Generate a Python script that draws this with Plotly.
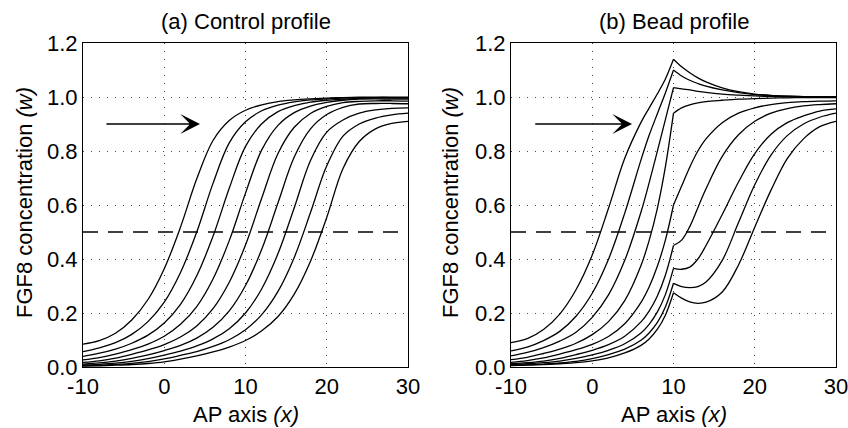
import plotly.graph_objects as go

# ---------------- data ----------------
x_ctrl = [-10, -8, -6, -4, -2, 0, 2, 4, 6, 8, 10, 12, 14, 16, 18, 20, 22, 24, 26, 28, 30]

ctrl_1 = [0.085, 0.098, 0.125, 0.174, 0.250, 0.364, 0.518, 0.697, 0.839, 0.913, 0.951, 0.971, 0.983, 0.989, 0.993, 0.996, 0.998, 0.999, 0.999, 0.999, 0.999]
ctrl_2 = [0.057, 0.071, 0.090, 0.121, 0.168, 0.240, 0.350, 0.500, 0.680, 0.830, 0.908, 0.949, 0.970, 0.982, 0.989, 0.993, 0.996, 0.997, 0.998, 0.998, 0.998]
ctrl_3 = [0.039, 0.051, 0.066, 0.088, 0.118, 0.163, 0.232, 0.338, 0.484, 0.662, 0.817, 0.901, 0.946, 0.968, 0.981, 0.988, 0.992, 0.995, 0.996, 0.996, 0.996]
ctrl_4 = [0.026, 0.035, 0.048, 0.064, 0.085, 0.114, 0.158, 0.224, 0.326, 0.468, 0.644, 0.804, 0.895, 0.942, 0.966, 0.980, 0.988, 0.992, 0.993, 0.992, 0.992]
ctrl_5 = [0.017, 0.023, 0.033, 0.047, 0.063, 0.083, 0.111, 0.152, 0.216, 0.314, 0.452, 0.626, 0.791, 0.888, 0.939, 0.965, 0.979, 0.984, 0.986, 0.986, 0.985]
ctrl_6 = [0.011, 0.015, 0.022, 0.032, 0.045, 0.061, 0.080, 0.107, 0.147, 0.208, 0.302, 0.436, 0.608, 0.778, 0.882, 0.935, 0.962, 0.974, 0.976, 0.976, 0.975]
ctrl_7 = [0.0075, 0.010, 0.014, 0.021, 0.031, 0.044, 0.059, 0.078, 0.104, 0.142, 0.200, 0.290, 0.420, 0.590, 0.765, 0.870, 0.915, 0.940, 0.952, 0.958, 0.960]
ctrl_8 = [0.0048, 0.0068, 0.0096, 0.0136, 0.020, 0.030, 0.043, 0.057, 0.076, 0.101, 0.138, 0.194, 0.280, 0.406, 0.572, 0.745, 0.855, 0.900, 0.922, 0.934, 0.940]
ctrl_9 = [0.0033, 0.0046, 0.0066, 0.0092, 0.013, 0.019, 0.029, 0.041, 0.056, 0.074, 0.098, 0.134, 0.187, 0.270, 0.392, 0.554, 0.735, 0.835, 0.882, 0.902, 0.910]

x_bead = [-10, -8, -6, -4, -2, 0, 2, 4, 6, 7, 8, 9, 10, 11, 12, 13, 14, 16, 18, 20, 22, 24, 26, 28, 30]
bead_site = 10  # AP position of the bead

bead_1 = [0.090, 0.105, 0.139, 0.196, 0.286, 0.415, 0.588, 0.773, 0.906, 0.959, 1.011, 1.067, 1.140, 1.112, 1.090, 1.071, 1.056, 1.034, 1.020, 1.011, 1.006, 1.003, 1.001, 1.000, 1.000]
bead_2 = [0.060, 0.074, 0.098, 0.132, 0.188, 0.273, 0.399, 0.570, 0.767, 0.858, 0.937, 1.015, 1.100, 1.078, 1.062, 1.050, 1.040, 1.026, 1.016, 1.009, 1.005, 1.003, 1.001, 1.000, 1.000]
bead_3 = [0.041, 0.054, 0.072, 0.096, 0.129, 0.184, 0.267, 0.395, 0.574, 0.682, 0.798, 0.916, 1.035, 1.030, 1.026, 1.021, 1.017, 1.011, 1.007, 1.004, 1.002, 1.001, 1.000, 1.000, 1.000]
bead_4 = [0.027, 0.036, 0.050, 0.066, 0.088, 0.120, 0.168, 0.246, 0.376, 0.468, 0.586, 0.741, 0.940, 0.960, 0.971, 0.978, 0.983, 0.988, 0.992, 0.994, 0.996, 0.997, 0.998, 0.998, 0.998]
bead_5 = [0.017, 0.024, 0.034, 0.048, 0.064, 0.084, 0.113, 0.160, 0.239, 0.296, 0.372, 0.470, 0.600, 0.670, 0.740, 0.800, 0.845, 0.905, 0.940, 0.960, 0.972, 0.979, 0.983, 0.985, 0.986]
bead_6 = [0.012, 0.016, 0.022, 0.032, 0.046, 0.062, 0.083, 0.114, 0.167, 0.207, 0.262, 0.340, 0.450, 0.470, 0.520, 0.590, 0.660, 0.780, 0.860, 0.910, 0.940, 0.957, 0.967, 0.972, 0.975]
bead_7 = [0.009, 0.012, 0.016, 0.022, 0.032, 0.045, 0.062, 0.086, 0.126, 0.158, 0.203, 0.268, 0.365, 0.362, 0.370, 0.400, 0.450, 0.565, 0.685, 0.790, 0.862, 0.905, 0.930, 0.948, 0.956]
bead_8 = [0.006, 0.008, 0.011, 0.015, 0.021, 0.031, 0.046, 0.066, 0.099, 0.126, 0.164, 0.222, 0.310, 0.298, 0.294, 0.298, 0.315, 0.395, 0.535, 0.675, 0.785, 0.857, 0.900, 0.925, 0.940]
bead_9 = [0.005, 0.007, 0.009, 0.012, 0.016, 0.023, 0.034, 0.052, 0.080, 0.104, 0.139, 0.192, 0.275, 0.255, 0.241, 0.236, 0.240, 0.278, 0.378, 0.518, 0.655, 0.772, 0.845, 0.890, 0.910]

threshold_x = [-10, 30]
threshold_y = [0.5, 0.5]

x_ticks = [-10, 0, 10, 20, 30]
x_ticklabels = ["-10", "0", "10", "20", "30"]
y_ticks = [0.0, 0.2, 0.4, 0.6, 0.8, 1.0, 1.2]
y_ticklabels = ["0.0", "0.2", "0.4", "0.6", "0.8", "1.0", "1.2"]

panel_titles = ["(a) Control profile", "(b) Bead profile"]
x_title = "AP axis <i>(x)</i>"
y_title = "FGF8 concentration <i>(w)</i>"

control_curves = [ctrl_1, ctrl_2, ctrl_3, ctrl_4, ctrl_5, ctrl_6, ctrl_7, ctrl_8, ctrl_9]
bead_curves = [bead_1, bead_2, bead_3, bead_4, bead_5, bead_6, bead_7, bead_8, bead_9]

# ---------------- figure ----------------
FONT = "Liberation Sans, Arial, Helvetica, sans-serif"
FS = 22
fig = go.Figure()

line_style = dict(color="black", width=1.3, shape="spline", smoothing=1.0)

for ys in control_curves:
    fig.add_trace(go.Scatter(x=x_ctrl, y=ys, xaxis="x", yaxis="y", mode="lines",
                             line=line_style, showlegend=False, hoverinfo="skip"))

k = x_bead.index(bead_site)
for ys in bead_curves:
    # draw each side of the bead separately so the kink at the bead stays sharp
    fig.add_trace(go.Scatter(x=x_bead[:k + 1], y=ys[:k + 1], xaxis="x2", yaxis="y2", mode="lines",
                             line=line_style, showlegend=False, hoverinfo="skip"))
    fig.add_trace(go.Scatter(x=x_bead[k:], y=ys[k:], xaxis="x2", yaxis="y2", mode="lines",
                             line=line_style, showlegend=False, hoverinfo="skip"))

for xa, ya in (("x", "y"), ("x2", "y2")):
    fig.add_trace(go.Scatter(x=threshold_x, y=threshold_y, xaxis=xa, yaxis=ya, mode="lines",
                             line=dict(color="black", width=1.3, dash="15px,10px"),
                             showlegend=False, hoverinfo="skip"))

common = dict(showline=True, mirror=True, linecolor="black", linewidth=1,
              showgrid=True, gridcolor="#444", gridwidth=1, griddash="1px,7px",
              zeroline=False, ticks="", automargin=False, ticklabeloverflow="allow",
              tickfont=dict(family=FONT, size=FS, color="black"))
common_x = dict(range=[-10, 30], tickvals=x_ticks, ticktext=x_ticklabels, **common)
common_y = dict(range=[0, 1.2], tickvals=y_ticks, ticktext=y_ticklabels, **common)

y_dom = [1 - 367 / 428, 1 - 43 / 428]
fig.update_layout(
    width=848, height=428,
    margin=dict(l=0, r=0, t=0, b=0, pad=0),
    paper_bgcolor="white", plot_bgcolor="white",
    xaxis=dict(domain=[83 / 848, 408 / 848], anchor="y", **common_x),
    yaxis=dict(domain=y_dom, anchor="x", **common_y),
    xaxis2=dict(domain=[511 / 848, 836 / 848], anchor="y2", **common_x),
    yaxis2=dict(domain=y_dom, anchor="x2", **common_y),
)

annotations = []
for title, cx in zip(panel_titles, [245.5 / 848, 673.5 / 848]):
    annotations.append(dict(text=title, xref="paper", yref="paper", x=cx, y=1 - 22 / 428,
                            xanchor="center", yanchor="middle", showarrow=False,
                            font=dict(family=FONT, size=FS, color="black")))
for cx in [245.5 / 848, 673.5 / 848]:
    annotations.append(dict(text=x_title, xref="paper", yref="paper", x=cx, y=1 - 414 / 428,
                            xanchor="center", yanchor="middle", showarrow=False,
                            font=dict(family=FONT, size=FS, color="black")))
for cx in [24 / 848, 450 / 848]:
    annotations.append(dict(text=y_title, xref="paper", yref="paper", x=cx, y=1 - 203 / 428,
                            xanchor="center", yanchor="middle", showarrow=False, textangle=-90,
                            font=dict(family=FONT, size=FS, color="black")))
for xr, yr, tip, tail in (("x", "y", 4.4, -7.3), ("x2", "y2", 4.9, -7.2)):
    annotations.append(dict(text="", xref=xr, yref=yr, axref=xr, ayref=yr,
                            x=tip, y=0.9, ax=tail, ay=0.9, showarrow=True,
                            arrowhead=3, arrowsize=2.2, arrowwidth=1.5, arrowcolor="black"))
fig.update_layout(annotations=annotations)

# remove the default page margin so the 848x428 figure fills the window exactly
fig.write_html("out.html",
               config={"displayModeBar": False, "staticPlot": True},
               post_script="document.body.style.margin='0';document.body.style.overflow='hidden';")
